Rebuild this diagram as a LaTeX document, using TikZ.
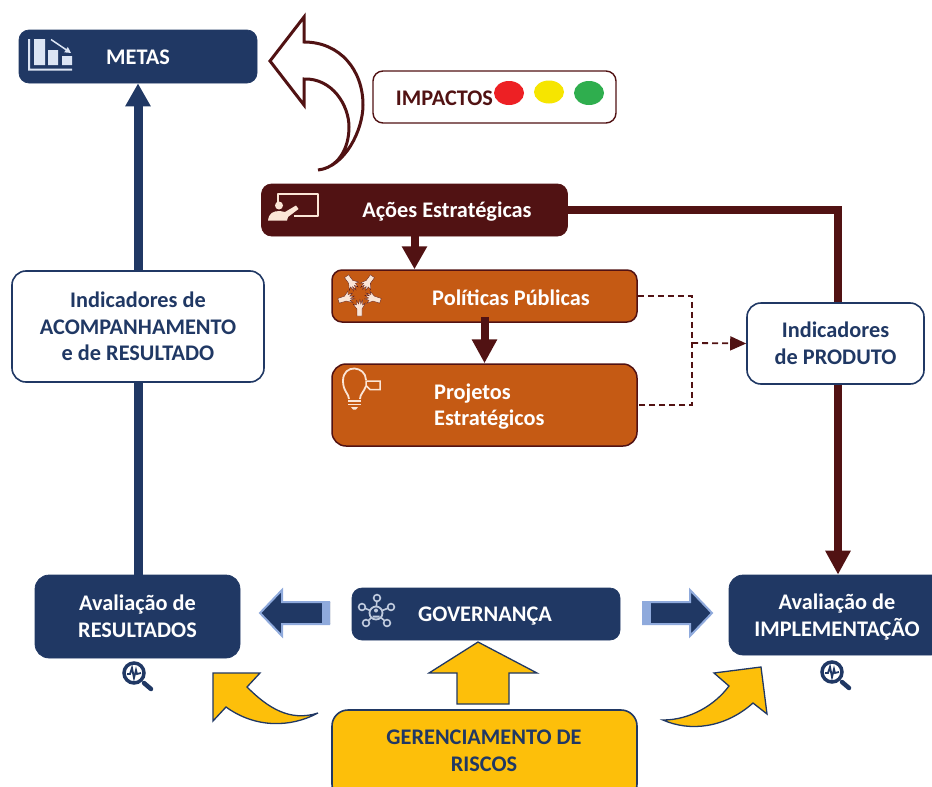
\documentclass[tikz,border=0pt]{standalone}
\usepackage{fontspec}
\setmainfont{Carlito}
\usetikzlibrary{arrows.meta,backgrounds,shapes.geometric}
\definecolor{navy}{HTML}{203864}
\definecolor{maroon}{HTML}{511213}
\definecolor{rust}{HTML}{C55A14}
\definecolor{gold}{HTML}{FDBF0A}
\definecolor{pale}{HTML}{DCE5F4}
\definecolor{cream}{HTML}{FBE5D6}
\definecolor{ltblue}{HTML}{8FAADC}
\definecolor{lampred}{HTML}{ED2024}
\definecolor{lampyellow}{HTML}{F6E500}
\definecolor{lampgreen}{HTML}{2FAE4E}
\tikzset{
  base/.style={rounded corners=10pt,inner sep=0pt,align=center,font=\fontsize{22.3}{26.5}\selectfont\bfseries},
  navybox/.style={base,fill=navy,draw=navy,line width=.7pt,text=white},
  maroonbox/.style={base,fill=maroon,draw=maroon,line width=.7pt,text=white},
  rustbox/.style={base,fill=rust,draw=maroon,line width=1.5pt,text=white},
  whitebox/.style={base,fill=white,draw=navy,line width=1.6pt,text=navy,rounded corners=14pt},
  lbl/.style={inner sep=0pt,align=center,font=\fontsize{22.3}{26.5}\selectfont\bfseries},
  navyline/.style={draw=navy,line width=9pt},
  maroonline/.style={draw=maroon,line width=7.5pt,line join=miter},
  dashline/.style={draw=maroon,line width=1.8pt,dash pattern=on 6pt off 4pt},
  goldshape/.style={fill=gold,draw=navy,line width=1.3pt,line join=miter},
  blockarrow/.style={fill=navy,draw=ltblue,line width=2pt,line join=miter},
  lamp/.style={ellipse,inner sep=0pt,minimum width=30pt,minimum height=24pt},
}
\begin{document}
\begin{tikzpicture}[x=1pt,y=-1pt]
\useasboundingbox (0,0) rectangle (932,787);
\clip (0,0) rectangle (932,787);
% boxes
\node[navybox,minimum width=238pt,minimum height=53pt] (metas) at (138,56.5) {};
\node[lbl,text=white] (metastxt) at (138,57.5) {METAS};
\node[base,fill=white,draw=maroon,line width=1.4pt,minimum width=243pt,minimum height=52pt] (impbox) at (494.5,97) {};
\node[lbl,text=maroon] (imptxt) at (444.5,98) {IMPACTOS};
\node[lamp,fill=lampred] (lampr) at (509,93) {};
\node[lamp,fill=lampyellow,minimum height=23pt] (lampy) at (549,92) {};
\node[lamp,fill=lampgreen] (lampg) at (589,93) {};
\node[maroonbox,minimum width=306pt,minimum height=52pt] (acoes) at (414.5,210) {};
\node[lbl,text=white] (acoestxt) at (447,212) {Ações Estratégicas};
\node[rustbox,minimum width=305pt,minimum height=52pt] (politicas) at (484.5,296) {};
\node[lbl,text=white] (polittxt) at (511,298) {Políticas Públicas};
\node[rustbox,rounded corners=14pt,minimum width=305pt,minimum height=82pt] (projetos) at (484.5,405) {};
\node[lbl,text=white,align=left,anchor=west] (projtxt) at (434,406.5) {Projetos\\Estratégicos};
\node[whitebox,minimum width=252pt,minimum height=111pt] (indres) at (138,326.5) {Indicadores de\\ACOMPANHAMENTO\\e de RESULTADO};
\node[whitebox,minimum width=177pt,minimum height=81pt] (indprod) at (835.5,343.5) {Indicadores\\de PRODUTO};
\node[navybox,rounded corners=14pt,minimum width=205pt,minimum height=83pt] (avalres) at (137.5,616.5) {Avaliação de\\RESULTADOS};
\node[navybox,minimum width=268pt,minimum height=52pt] (gov) at (486,614) {};
\node[lbl,text=white] (govtxt) at (485,616) {GOVERNANÇA};
\node[navybox,rounded corners=14pt,minimum width=216pt,minimum height=80pt] (avalimp) at (837,615) {};
\node[lbl,text=white] (avalimptxt) at (837,617) {Avaliação de\\IMPLEMENTAÇÃO};
\node[base,fill=gold,draw=navy,line width=1.6pt,text=navy,rounded corners=16pt,minimum width=305pt,minimum height=90pt] (riscos) at (484.5,755) {};
\node[lbl,text=navy] (riscostxt) at (484,751) {GERENCIAMENTO DE\\RISCOS};
% connectors
\coordinate (corner) at (838,210);
\coordinate (junction) at (692,343);
\begin{scope}[on background layer]
\draw[navyline,-{Triangle[length=23pt,width=24pt]}] (indres.north) -- (metas.south);
\draw[navyline] (indres.south) -- (indres.south |- avalres.north);
\draw[maroonline,-{Triangle[length=24pt,width=24pt]}] (acoes.east) -- (corner) -- (corner |- avalimp.north);
\end{scope}
\draw[maroonline,line width=8pt,-{Triangle[length=23pt,width=24pt]}] (acoes.south) -- (acoes.south |- politicas.north);
\draw[maroonline,line width=8pt,-{Triangle[length=24pt,width=24pt]}] ([yshift=6pt]politicas.south) -- (projetos.north);
\draw[dashline] (politicas.east) -- (junction |- politicas.east) -- (junction |- projetos.east) -- (projetos.east);
\draw[dashline,-{Triangle[length=16pt,width=14pt]}] (junction) -- (indprod.west);
% curved outline arrow
\draw[draw=maroon,line width=3pt,fill=white,line join=miter] (304,17) -- (270,61) -- (304,105) -- (304,79)
  .. controls (332,78) and (349,105) .. (349,127) .. controls (349,150) and (337,168) .. (318,170)
  .. controls (345,167) and (363,130) .. (363,105) .. controls (363,70) and (340,42) .. (304,42) -- cycle;
% governance arrows
\draw[blockarrow] (330,602) -- (282,602) -- (282,590) -- (260,613) -- (282,636) -- (282,624) -- (330,624);
\fill[ltblue] (322,601) rectangle (330,625);
\draw[blockarrow] (642,602) -- (690,602) -- (690,590) -- (712,613) -- (690,636) -- (690,624) -- (642,624);
\fill[ltblue] (642,601) rectangle (651,625);
% gold arrows
\draw[goldshape] (478,642) -- (537,673) -- (509,673) -- (509,704) -- (457,704) -- (457,673) -- (429,673) -- cycle;
\draw[goldshape] (213,673) -- (260,673) -- (247,687) .. controls (268,708) and (290,722) .. (318,713)
  .. controls (290,728) and (255,728) .. (226,707) -- (213,721) -- cycle;
\draw[goldshape] (761,667) -- (714,673) -- (729,686) .. controls (715,705) and (690,720) .. (663,720)
  .. controls (690,732) and (725,728) .. (753,703) -- (767,714) -- cycle;
% METAS icon
\begin{scope}[pale]
\fill (28,39) rectangle (30,70) (28,68.5) rectangle (72,70.5);
\fill (34,39) rectangle (45,65) (48,50) rectangle (58,65) (62,56) rectangle (72,65);
\draw[line width=1.5pt,-{Triangle[length=6pt,width=6pt]}] (51,39.5) -- (71,53);
\end{scope}
% Acoes icon
\draw[cream,line width=2pt,line join=round] (277.5,202) -- (277.5,193.5) -- (317.5,193.5) -- (317.5,216) -- (294,216);
\fill[cream] (279,205.5) circle (4pt);
\fill[cream] (268,220.5) .. controls (269,213) and (273,211) .. (280,211) -- (285,212) -- (296,205.5) -- (298.5,209) -- (288,217) -- (287,220.5) -- cycle;
% Politicas icon: hands in a ring
\begin{scope}[shift={(359.5,294)}]
\foreach \a in {0,72,144,216,288}{
  \begin{scope}[rotate=\a]
  \fill[cream,draw=maroon,line width=.3pt] (-2.5,22) -- (2.5,22) -- (2.5,15) -- (6,9) -- (3,11) -- (3,6) -- (1.3,10) -- (0.4,5.5) -- (-1,10) -- (-3,6.5) -- (-3,11) -- (-6.5,10) -- (-2.5,15) -- cycle;
  \end{scope}
}
\end{scope}
% Bulb icon
\draw[cream,line width=1.8pt] (349,399) .. controls (349,394) and (343,391) .. (343,381) .. controls (343,363) and (366,366) .. (366,380);
\draw[cream,line width=1.8pt] (360,399) .. controls (360,394) and (364,392) .. (366,386);
\draw[cream,line width=1.8pt] (348,401) -- (361,401) (348,404.5) -- (361,404.5);
\fill[cream] (351,407) -- (358,407) -- (356,409.5) -- (353,409.5) -- cycle;
\draw[cream,line width=1.5pt,fill=rust] (366,381) -- (380,381) -- (380,389.5) -- (370,389.5) -- (366,385.5) -- cycle;
% Governance icon
\foreach \p in {(377,598),(391,607),(387,623),(366,623),(362,607)}{
  \draw[pale!85!navy,line width=1.6pt] (376,613) -- \p;
  \draw[pale!85!navy,line width=1.6pt,fill=navy] \p circle (3.4pt);
}
\draw[pale!85!navy,line width=1.8pt,fill=navy] (376,613) circle (6.5pt);
\fill[pale!85!navy] (376,610.5) circle (2pt) (372.5,615.5) rectangle (379.5,617.5);
% magnifiers
\foreach \cx/\cy in {134/673,832/672}{
  \begin{scope}[shift={(\cx,\cy)}]
  \draw[navy,line width=3.5pt,fill=white] (0,0) circle (10pt);
  \draw[navy,line width=4.5pt,line cap=round] (10,10) -- (17,16);
  \draw[navy,line width=1.8pt] (-7,1) -- (-4,1) -- (-2,-5) -- (0,5) -- (2,-3) -- (3,1) -- (7,0);
  \end{scope}
}
\end{tikzpicture}
\end{document}
